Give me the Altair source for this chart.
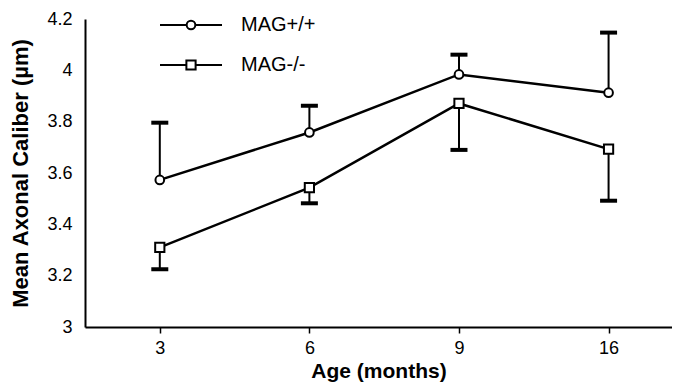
import altair as alt
import pandas as pd

# ---- data ----
series_names = ["MAG+/+", "MAG-/-"]
ages = ["3", "6", "9", "16"]
wt_mean = [3.573, 3.758, 3.984, 3.913]
wt_err_end = [3.796, 3.862, 4.061, 4.147]   # error bar drawn upward
ko_mean = [3.310, 3.543, 3.871, 3.693]
ko_err_end = [3.225, 3.482, 3.690, 3.492]   # error bar drawn downward
y_ticks = [3, 3.2, 3.4, 3.6, 3.8, 4, 4.2]

rows = []
for name, means, ends in [(series_names[0], wt_mean, wt_err_end),
                          (series_names[1], ko_mean, ko_err_end)]:
    for i, (a, m, e) in enumerate(zip(ages, means, ends)):
        rows.append({"series": name, "idx": i + 1, "age": a, "mean": m, "end": e})
df = pd.DataFrame(rows)

FONT = "Liberation Sans"
label_js = "[''," + ",".join("'%s'" % a for a in ages) + "][datum.value]"

x = alt.X(
    "idx:Q",
    scale=alt.Scale(domain=[0.5, 4.424], nice=False, zero=False),
    axis=alt.Axis(
        values=[1, 2, 3, 4], labelExpr=label_js, title="Age  (months)",
        grid=False, domainColor="black", domainWidth=2, tickColor="black",
        tickWidth=1.5, tickSize=6, labelFontSize=18, labelPadding=6,
        labelColor="black", labelFont=FONT, titleFont=FONT, titleFontSize=21,
        titleFontWeight="bold", titleColor="black", titlePadding=3,
    ),
)
y = alt.Y(
    "mean:Q",
    scale=alt.Scale(domain=[3, 4.2], nice=False, zero=False),
    axis=alt.Axis(
        values=y_ticks, labelExpr="format(datum.value, '~g')",
        title="Mean  Axonal  Caliber  (µm)", grid=False, ticks=False,
        domainColor="black", domainWidth=2, labelFontSize=18, labelPadding=13,
        labelColor="black", labelFont=FONT, titleFont=FONT, titleFontSize=22,
        titleFontWeight="bold", titleColor="black", titlePadding=14,
    ),
)

shape_scale = alt.Scale(domain=series_names, range=["circle", "square"])
size_scale = alt.Scale(domain=series_names, range=[75, 85])

base = alt.Chart(df)
err = base.mark_rule(color="black", strokeWidth=2).encode(x=x, y=y, y2="end:Q")
caps = base.mark_rule(color="black", strokeWidth=4, xOffset=-8.5, x2Offset=8.5,
                      strokeCap="butt").encode(x="idx:Q", x2="idx:Q", y="end:Q")
lines = base.mark_line(color="black", strokeWidth=2.5).encode(x=x, y=y, detail="series:N")
points = base.mark_point(filled=True, fill="white", stroke="black", strokeWidth=2,
                         opacity=1).encode(
    x=x, y=y,
    shape=alt.Shape("series:N", scale=shape_scale, legend=None),
    size=alt.Size("series:N", scale=size_scale, legend=None),
)

layers = [err, caps, lines, points]
for name, yv in zip(series_names, [6, 46]):
    ldf = pd.DataFrame({"series": [name]})
    lc = alt.Chart(ldf)
    layers.append(lc.mark_rule(color="black", strokeWidth=2).encode(
        x=alt.value(75), x2=alt.value(137), y=alt.value(yv)))
    layers.append(lc.mark_point(filled=True, fill="white", stroke="black",
                                strokeWidth=2, opacity=1).encode(
        x=alt.value(106), y=alt.value(yv),
        shape=alt.Shape("series:N", scale=shape_scale, legend=None),
        size=alt.Size("series:N", scale=size_scale, legend=None)))
    layers.append(lc.mark_text(align="left", baseline="middle", fontSize=20,
                               font=FONT, color="black").encode(
        x=alt.value(156), y=alt.value(yv), text="series:N"))

chart = alt.layer(*layers).properties(
    width=587, height=308,
    autosize=alt.AutoSizeParams(type="none"),
    padding={"left": 77, "top": 11, "right": 0, "bottom": 57},
    background="white",
).configure_view(stroke=None)

chart.save("out.html", embed_options={"renderer": "svg", "actions": False})
